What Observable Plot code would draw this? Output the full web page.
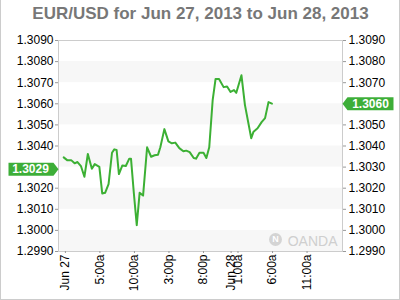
<!DOCTYPE html>
<html>
<head>
<meta charset="utf-8">
<script src="https://cdn.jsdelivr.net/npm/d3@7"></script>
<script src="https://cdn.jsdelivr.net/npm/@observablehq/plot@0.6"></script>
<style>
  html, body { margin: 0; padding: 0; background: #fff; }
  #wrap { position: relative; width: 400px; height: 300px; }
  #border { position: absolute; left: 0; top: 0; width: 400px; height: 300px; box-sizing: border-box;
            border: 1px solid #cccccc; border-top: none; pointer-events: none; }
</style>
</head>
<body>
<div id="wrap"><div id="border"></div></div>
<script>
const title = "EUR/USD for Jun 27, 2013 to Jun 28, 2013";

const times = [
  "2013-06-26T23:45","2013-06-27T00:15","2013-06-27T00:50","2013-06-27T01:20","2013-06-27T01:45",
  "2013-06-27T02:15","2013-06-27T02:45","2013-06-27T03:15","2013-06-27T03:50","2013-06-27T04:15",
  "2013-06-27T04:55","2013-06-27T05:20","2013-06-27T05:45","2013-06-27T06:15","2013-06-27T06:45",
  "2013-06-27T07:05","2013-06-27T07:25","2013-06-27T07:45","2013-06-27T08:15","2013-06-27T08:45",
  "2013-06-27T09:15","2013-06-27T09:30","2013-06-27T09:55","2013-06-27T10:20","2013-06-27T10:45",
  "2013-06-27T11:15","2013-06-27T11:50","2013-06-27T12:25","2013-06-27T12:55","2013-06-27T13:25",
  "2013-06-27T13:45","2013-06-27T14:20","2013-06-27T14:55","2013-06-27T15:25","2013-06-27T15:55",
  "2013-06-27T16:30","2013-06-27T17:05","2013-06-27T17:30","2013-06-27T18:00","2013-06-27T18:35",
  "2013-06-27T18:55","2013-06-27T19:25","2013-06-27T20:00","2013-06-27T20:25","2013-06-27T20:50",
  "2013-06-27T21:20","2013-06-27T21:45","2013-06-27T22:15","2013-06-27T22:55","2013-06-27T23:25",
  "2013-06-27T23:55","2013-06-28T00:25","2013-06-28T00:45","2013-06-28T01:30","2013-06-28T02:00",
  "2013-06-28T02:55","2013-06-28T03:15","2013-06-28T03:50","2013-06-28T04:25","2013-06-28T04:55",
  "2013-06-28T05:25","2013-06-28T05:55"
];
const rates = [
  1.30346,1.30333,1.30333,1.30318,1.30324,
  1.30305,1.30254,1.30362,1.30292,1.30314,
  1.30301,1.30175,1.30178,1.30219,1.30368,
  1.30384,1.30381,1.30267,1.30308,1.30305,
  1.30340,1.30340,1.30175,1.30025,1.30178,
  1.30165,1.30394,1.30349,1.30356,1.30359,
  1.30394,1.30480,1.30422,1.30413,1.30416,
  1.30390,1.30375,1.30378,1.30371,1.30343,
  1.30340,1.30368,1.30368,1.30343,1.30394,
  1.30619,1.30718,1.30718,1.30679,1.30682,
  1.30656,1.30665,1.30652,1.30735,1.30595,
  1.30437,1.30468,1.30484,1.30513,1.30532,
  1.30608,1.30601
];

// tick labels on each side (the one hidden under each badge is left out)
const yTicksLeft = [1.2990,1.3000,1.3010,1.3020,1.3040,1.3050,1.3060,1.3070,1.3080,1.3090];
const yTicksRight = [1.2990,1.3000,1.3010,1.3020,1.3030,1.3040,1.3050,1.3070,1.3080,1.3090];
const bandLows = [1.2990,1.3010,1.3030,1.3050,1.3070];
const xTicks = ["2013-06-27T00:00","2013-06-27T05:00","2013-06-27T10:00","2013-06-27T15:00","2013-06-27T20:00",
                "2013-06-28T00:00","2013-06-28T01:00","2013-06-28T06:00","2013-06-28T11:00"];
const xTickLabels = ["Jun 27","5:00a","10:00a","3:00p","8:00p","Jun 28","1:00a","6:00a","11:00a"];
const xDomain = ["2013-06-26T23:00","2013-06-28T16:08"];
const openRate = [1.3029];
const lastRate = [1.3060];

const data = times.map((t, i) => ({time: new Date(t), rate: rates[i]}));
const tickDates = xTicks.map(t => new Date(t));
const labelFor = new Map(tickDates.map((d, i) => [+d, xTickLabels[i]]));

const green = "#3dae38";
const lineGreen = "#3cb034";

// badge shapes as custom symbols (arrow tip at the symbol centre)
const leftBadge = {draw(ctx) {
  ctx.moveTo(0, 0); ctx.lineTo(-5, -6.5); ctx.lineTo(-50, -6.5); ctx.lineTo(-50, 6.5); ctx.lineTo(-5, 6.5); ctx.closePath();
}};
const rightBadge = {draw(ctx) {
  ctx.moveTo(0, 0); ctx.lineTo(5, -6.5); ctx.lineTo(51, -6.5); ctx.lineTo(51, 6.5); ctx.lineTo(5, 6.5); ctx.closePath();
}};

const plot = Plot.plot({
  width: 400,
  height: 300,
  marginTop: 40,
  marginBottom: 49,
  marginLeft: 58,
  marginRight: 58,
  style: {fontFamily: "'Liberation Sans', Arial, sans-serif", fontSize: "12px", color: "#000", background: "transparent"},
  x: {type: "time", domain: xDomain.map(d => new Date(d))},
  y: {domain: [1.2990, 1.3090]},
  marks: [
    Plot.rect(bandLows, {y1: d => d, y2: d => d + 0.001, fill: "#f7f7f7"}),
    Plot.frame({stroke: "#cccccc"}),
    Plot.axisY({anchor: "left", ticks: yTicksLeft, tickFormat: d => d.toFixed(4), tickSize: 3, tickPadding: 2, label: null, stroke: "#999", fill: "#000"}),
    Plot.axisY({anchor: "right", ticks: yTicksRight, tickFormat: d => d.toFixed(4), tickSize: 3, tickPadding: 3, label: null, stroke: "#999", fill: "#000"}),
    Plot.axisX({ticks: tickDates, tickFormat: d => labelFor.get(+d), tickRotate: -90, tickSize: 2, tickPadding: 1, label: null, stroke: "#999", fill: "#000"}),
    // OANDA watermark
    Plot.dot([0], {frameAnchor: "bottom-right", dx: -67, dy: -12, r: 6.5, fill: "#d4d4d4", stroke: null}),
    Plot.text(["N"], {frameAnchor: "bottom-right", dx: -67, dy: -12, text: d => d, fill: "#fff", fontSize: 9, fontWeight: "bold", textAnchor: "middle", lineAnchor: "middle"}),
    Plot.text(["OANDA"], {frameAnchor: "bottom-right", dx: -5, dy: -6, text: d => d, fill: "#cfcfcf", fontSize: 14, textAnchor: "end", lineAnchor: "bottom"}),
    // price line
    Plot.line(data, {x: "time", y: "rate", stroke: lineGreen, strokeWidth: 2}),
    // badges
    Plot.dot(openRate, {y: d => d, frameAnchor: "left", symbol: leftBadge, fill: green, stroke: null}),
    Plot.text(openRate, {y: d => d, frameAnchor: "left", dx: -28, text: d => d.toFixed(4), fill: "#fff", fontWeight: "bold", fontSize: 12, textAnchor: "middle"}),
    Plot.dot(lastRate, {y: d => d, frameAnchor: "right", symbol: rightBadge, fill: green, stroke: null}),
    Plot.text(lastRate, {y: d => d, frameAnchor: "right", dx: 28, text: d => d.toFixed(4), fill: "#fff", fontWeight: "bold", fontSize: 12, textAnchor: "middle"}),
    // title
    Plot.text([title], {frameAnchor: "top", dy: -22, text: d => d, fill: "#777", fontSize: 17, fontWeight: "bold", lineAnchor: "bottom"})
  ]
});
document.getElementById("wrap").prepend(plot);
</script>
</body>
</html>
